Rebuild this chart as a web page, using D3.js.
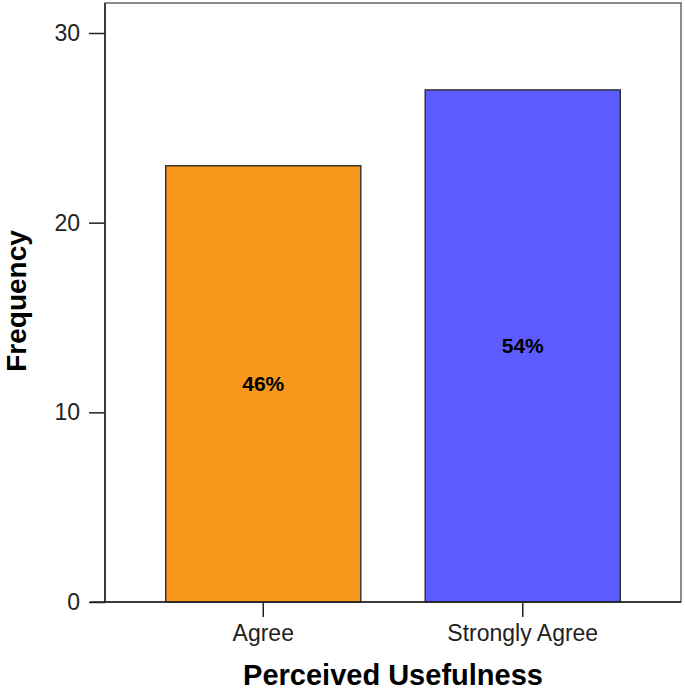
<!DOCTYPE html>
<html>
<head>
<meta charset="utf-8">
<script src="https://cdn.jsdelivr.net/npm/d3@7"></script>
<style>
  body { margin: 0; background: #fff; }
  svg { display: block; font-family: "Liberation Sans", Arial, sans-serif; }
</style>
</head>
<body>
<div id="chart"></div>
<script>
// data
var categories = ['Agree', 'Strongly Agree'];
var frequencies = [23, 27];
var percentLabels = ['46%', '54%'];
var barColors = ['#f7981d', '#5b5bff'];
var yTicks = [0, 10, 20, 30];

var width = 685, height = 690;
var plot = { left: 105, right: 681, top: 3, bottom: 602 };

var svg = d3.select('#chart')
    .append('svg')
    .attr('width', width)
    .attr('height', height);

// scales
var x = d3.scaleBand()
    .domain(categories)
    .range([plot.left, plot.right])
    .paddingInner(0.248)
    .paddingOuter(0.234);

var y = d3.scaleLinear()
    .domain([0, 30])
    .range([plot.bottom, 33]);

// frame
svg.append('rect')
    .attr('x', plot.left)
    .attr('y', plot.top)
    .attr('width', plot.right - plot.left)
    .attr('height', plot.bottom - plot.top)
    .attr('fill', 'none')
    .attr('stroke', '#666')
    .attr('stroke-width', 1.5);

// bars
svg.selectAll('.bar')
    .data(frequencies)
    .enter()
    .append('rect')
    .attr('class', 'bar')
    .attr('x', function(d, i) { return x(categories[i]); })
    .attr('y', function(d) { return y(d); })
    .attr('width', x.bandwidth())
    .attr('height', function(d) { return y(0) - y(d); })
    .attr('fill', function(d, i) { return barColors[i]; })
    .attr('stroke', '#222')
    .attr('stroke-width', 1.3);

// percent labels (near middle of each bar)
svg.selectAll('.pct')
    .data(frequencies)
    .enter()
    .append('text')
    .attr('class', 'pct')
    .attr('x', function(d, i) { return x(categories[i]) + x.bandwidth() / 2; })
    .attr('y', function(d) { return y(d / 2); })
    .attr('dy', '0.35em')
    .attr('text-anchor', 'middle')
    .style('font-size', '21px')
    .style('font-weight', 'bold')
    .attr('fill', '#000')
    .text(function(d, i) { return percentLabels[i]; });

// axes
var yAxis = d3.axisLeft(y)
    .tickValues(yTicks)
    .tickSize(16)
    .tickPadding(9)
    .tickSizeOuter(0);

var gy = svg.append('g')
    .attr('transform', 'translate(' + plot.left + ',0)')
    .call(yAxis);

var xAxis = d3.axisBottom(x)
    .tickSize(15)
    .tickPadding(8)
    .tickSizeOuter(0);

var gx = svg.append('g')
    .attr('transform', 'translate(0,' + plot.bottom + ')')
    .call(xAxis);

[gx, gy].forEach(function(g) {
    g.select('.domain').remove();
    g.selectAll('line').attr('stroke', '#222').attr('stroke-width', 1.5);
    g.selectAll('text')
        .attr('fill', '#222')
        .style('font-family', '"Liberation Sans", Arial, sans-serif')
        .style('font-size', '23px');
});

// axis lines
svg.append('line')
    .attr('x1', plot.left).attr('x2', plot.left)
    .attr('y1', plot.top).attr('y2', plot.bottom)
    .attr('stroke', '#222').attr('stroke-width', 1.5);
svg.append('line')
    .attr('x1', 90).attr('x2', plot.right)
    .attr('y1', plot.bottom).attr('y2', plot.bottom)
    .attr('stroke', '#222').attr('stroke-width', 1.5);

// axis titles
svg.append('text')
    .attr('x', 393)
    .attr('y', 685)
    .attr('text-anchor', 'middle')
    .style('font-size', '29px')
    .style('font-weight', 'bold')
    .text('Perceived Usefulness');

svg.append('text')
    .attr('transform', 'translate(26,301) rotate(-90)')
    .attr('text-anchor', 'middle')
    .style('font-size', '28px')
    .style('font-weight', 'bold')
    .text('Frequency');
</script>
</body>
</html>
